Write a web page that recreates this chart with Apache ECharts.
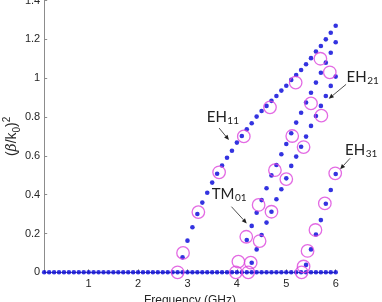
<!DOCTYPE html>
<html><head><meta charset="utf-8">
<script src="https://cdn.jsdelivr.net/npm/echarts@6/dist/echarts.min.js"></script>
<style>html,body{margin:0;padding:0;background:#fff}#c{width:382px;height:302px}</style>
</head><body><div id="c"></div>
<script>
// ---- data ----
const xTicks = [1, 2, 3, 4, 5, 6];
const yTicks = [0, 0.2, 0.4, 0.6, 0.8, 1, 1.2, 1.4];

// modes below cut-off (beta = 0)
const zeroFreq = [0.1,0.2,0.3,0.4,0.5,0.6,0.7,0.8,0.9,1.0,1.1,1.2,1.3,1.4,1.5,1.6,1.7,1.8,1.9,2.0,
  2.1,2.2,2.3,2.4,2.5,2.6,2.7,2.8,2.9,3.0,3.1,3.2,3.3,3.4,3.5,3.6,3.7,3.8,3.9,4.0,
  4.1,4.2,4.3,4.4,4.5,4.6,4.7,4.8,4.9,5.0,5.1,5.2,5.3,5.4,5.5,5.6,5.7,5.8,5.9,6.0];
const zeroVal = [0,0,0,0,0,0,0,0,0,0,0,0,0,0,0,0,0,0,0,0,
  0,0,0,0,0,0,0,0,0,0,0,0,0,0,0,0,0,0,0,0,
  0,0,0,0,0,0,0,0,0,0,0,0,0,0,0,0,0,0,0,0];

const eh11Freq = [2.9,3.0,3.1,3.2,3.3,3.4,3.5,3.6,3.7,3.8,3.9,4.0,4.1,4.2,4.3,4.4,4.5,4.6,4.7,4.8,4.9,5.0,5.1,5.2,5.3,5.4,5.5,5.6,5.7,5.8,5.9,6.0];
const eh11Val  = [0.077,0.163,0.232,0.300,0.359,0.410,0.462,0.508,0.550,0.590,0.626,0.668,0.702,0.737,0.768,0.802,0.831,0.857,0.883,0.908,0.936,0.961,0.991,1.016,1.042,1.072,1.103,1.137,1.166,1.200,1.234,1.270];

const tm01Freq = [4.2,4.3,4.4,4.5,4.6,4.7,4.8,4.9,5.0,5.1,5.2,5.3,5.4,5.5,5.6,5.7,5.8,5.9,6.0];
const tm01Val  = [0.166,0.239,0.307,0.372,0.433,0.499,0.553,0.608,0.661,0.716,0.771,0.822,0.875,0.925,0.977,1.028,1.080,1.131,1.185];

const eh21Freq = [4.3,4.4,4.5,4.6,4.7,4.8,4.9,5.0,5.1,5.2,5.3,5.4,5.5,5.6,5.7,5.8,5.9,6.0];
const eh21Val  = [0.049,0.118,0.192,0.256,0.312,0.376,0.428,0.484,0.548,0.596,0.647,0.699,0.754,0.805,0.857,0.908,0.960,1.008];

const eh31Freq = [5.4,5.5,5.6,5.7,5.8,5.9,6.0];
const eh31Val  = [0.038,0.118,0.195,0.269,0.353,0.424,0.506];

// simulated points (hollow circles)
const simFreq = [2.80,2.91,3.22,3.64,4.14,4.67,5.19,5.69,5.88,5.50,5.71,5.12,5.35,4.77,5.00,4.44,4.70,4.19,4.46,4.03,4.28,3.98,4.23,5.99,5.78,5.59,5.43,5.35,5.31];
const simVal  = [0,0.10,0.31,0.515,0.70,0.85,0.977,1.10,1.03,0.87,0.807,0.702,0.645,0.526,0.48,0.347,0.312,0.183,0.161,0.055,0.05,0,0,0.51,0.355,0.218,0.11,0.03,0];

// annotations
const labelMain = ['EH', 'EH', 'EH', 'TM'];
const labelSub  = ['11', '21', '31', '01'];
const labelF = [3.39, 6.22, 6.19, 3.49];
const labelV = [0.80, 1.006, 0.63, 0.403];
const arrowFromF = [3.64, 6.21, 6.29, 3.89];
const arrowFromV = [0.743, 0.968, 0.587, 0.338];
const arrowToF = [3.84, 5.86, 6.09, 4.20];
const arrowToV = [0.681, 0.894, 0.531, 0.252];

// ---- chart ----
const chart = echarts.init(document.getElementById('c'), null, {renderer: 'canvas'});
const pairs = (f, v) => f.map((x, i) => [x, v[i]]);
const axisGray = '#8c8c8c';
const txt = '#262626';
const FONT = 'Liberation Sans';
const blue = '#0000d8';
const dotSeries = (name, f, v) => ({
  name, type: 'scatter', data: pairs(f, v), symbol: 'circle', symbolSize: 4.6,
  itemStyle: {color: blue}, silent: true, z: 3, clip: false
});

chart.setOption({
  animation: false,
  grid: {left: 44.2, right: 46.3, top: 0.5, bottom: 29.7, containLabel: false, outerBoundsMode: 'none'},
  xAxis: {
    type: 'value', min: 0.1, max: 6,
    name: 'Frequency (GHz)', nameLocation: 'middle', nameGap: 16,
    nameTextStyle: {fontSize: 12, color: txt, fontFamily: FONT},
    axisLine: {onZero: false, lineStyle: {color: axisGray, width: 1}},
    axisTick: {inside: true, length: 3, customValues: xTicks, lineStyle: {color: axisGray}},
    axisLabel: {customValues: xTicks, margin: 6, fontSize: 11, color: txt, fontFamily: FONT},
    splitLine: {show: false}
  },
  yAxis: {
    type: 'value', min: 0, max: 1.4, interval: 0.2,
    name: '({b|β}/k{sub|0}){sup|2}', nameLocation: 'middle', nameGap: 22, nameRotate: 90,
    nameMoveOverlap: false,
    nameTextStyle: {
      fontSize: 14, color: txt, fontFamily: FONT, lineHeight: 20,
      rich: {
        b: {fontSize: 14, fontFamily: 'DejaVu Serif', fontStyle: 'italic', color: txt, lineHeight: 20},
        sub: {fontSize: 10, color: txt, fontFamily: FONT, verticalAlign: 'bottom', lineHeight: 14},
        sup: {fontSize: 10, color: txt, fontFamily: FONT, verticalAlign: 'top', lineHeight: 14}
      }
    },
    axisLine: {show: true, lineStyle: {color: axisGray, width: 1}},
    axisTick: {inside: true, length: 3, lineStyle: {color: axisGray}},
    axisLabel: {margin: 4, fontSize: 11, color: txt, fontFamily: FONT},
    splitLine: {show: false}
  },
  series: [
    dotSeries('cutoff', zeroFreq, zeroVal),
    dotSeries('EH11', eh11Freq, eh11Val),
    dotSeries('TM01', tm01Freq, tm01Val),
    dotSeries('EH21', eh21Freq, eh21Val),
    dotSeries('EH31', eh31Freq, eh31Val),
    {
      name: 'sim', type: 'scatter', data: pairs(simFreq, simVal), symbol: 'circle', symbolSize: 12.5,
      itemStyle: {color: 'rgba(0,0,0,0)', borderColor: '#dc45dc', borderWidth: 1.3},
      silent: true, z: 4, clip: false
    }
  ]
});

// annotations anchored in data coordinates
const ctx = document.createElement('canvas').getContext('2d');
const ANN_FONT = 'Lato';
const graphics = [];
for (let i = 0; i < labelMain.length; i++) {
  const p = chart.convertToPixel({gridIndex: 0}, [labelF[i], labelV[i]]);
  ctx.font = '15px ' + ANN_FONT;
  const w = ctx.measureText(labelMain[i]).width;
  graphics.push({type: 'text', x: p[0], y: p[1], style: {text: labelMain[i], font: '15px ' + ANN_FONT, fill: '#222', verticalAlign: 'middle'}, z: 10});
  graphics.push({type: 'text', x: p[0] + w + 0.5, y: p[1] + 4, style: {text: labelSub[i], font: '10px ' + ANN_FONT, fill: '#222', verticalAlign: 'middle'}, z: 10});
  const a = chart.convertToPixel({gridIndex: 0}, [arrowFromF[i], arrowFromV[i]]);
  const b = chart.convertToPixel({gridIndex: 0}, [arrowToF[i], arrowToV[i]]);
  const dx = b[0] - a[0], dy = b[1] - a[1], L = Math.hypot(dx, dy);
  const ux = dx / L, uy = dy / L, hl = 5, hw = 2.2;
  const bx = b[0] - ux * hl, by = b[1] - uy * hl;
  graphics.push({type: 'line', shape: {x1: a[0], y1: a[1], x2: bx, y2: by}, style: {stroke: '#222', lineWidth: 0.8}, z: 10});
  graphics.push({type: 'polygon', shape: {points: [[b[0], b[1]], [bx - uy * hw, by + ux * hw], [bx + uy * hw, by - ux * hw]]}, style: {fill: '#222'}, z: 10});
}
chart.setOption({graphic: graphics});
</script>
</body></html>
